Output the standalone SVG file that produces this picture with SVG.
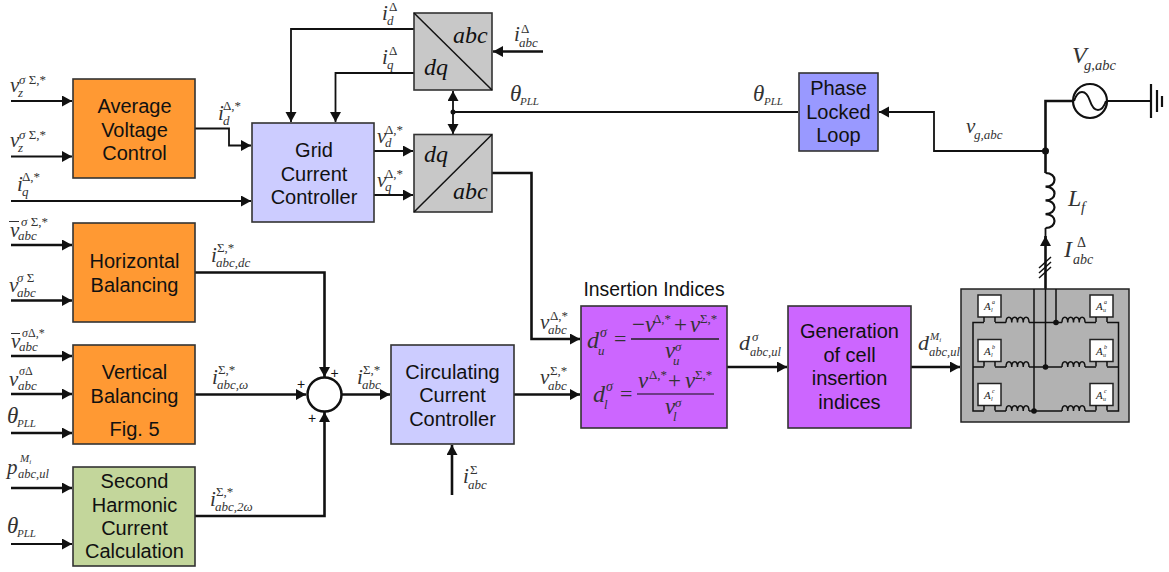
<svg xmlns="http://www.w3.org/2000/svg" width="1169" height="572" viewBox="0 0 1169 572">
<style>
.b{stroke:#333;stroke-width:1.6}
.o{fill:#f93}.p{fill:#ccf}.g{fill:#c3d69b}.v{fill:#c6f}.y{fill:#c8c8c8}
.t{font:20px "Liberation Sans",Arial,sans-serif;fill:#111;text-anchor:middle}
.m{font:italic 21px "Liberation Serif","Times New Roman",serif;fill:#333}
.s{font-size:13px}.u{font-size:13px;font-style:normal}
.n{font-style:normal}
.l{font-size:24px;fill:#111}
.w{fill:none;stroke:#111;stroke-width:1.8}
.h{fill:none;stroke:#111;stroke-width:2.6}
.c{fill:none;stroke:#111;stroke-width:1.5}
.k{fill:#fff;stroke:#222;stroke-width:1.5}
.a{font:italic 11px "Liberation Serif",serif;fill:#222}
</style>
<defs>
<marker id="ar" markerUnits="userSpaceOnUse" markerWidth="12" markerHeight="12" refX="10" refY="5.500" orient="auto"><path d="M0 0L10 5.500L0 11Z" fill="#111"/></marker>
<g id="mod"><rect class="k" x="0" y="0" width="23" height="22"/><path class="c" d="M6 22v5M17 22v5"/></g>
<path id="coil" class="c" d="M0 0c0-7 5.750-7 5.750 0c0-7 5.750-7 5.750 0c0-7 5.750-7 5.750 0c0-7 5.750-7 5.750 0"/>
</defs>

<g id="connectors">
<path class="w" marker-end="url(#ar)" d="M11 101H72"/>
<path class="w" marker-end="url(#ar)" d="M11 156.500H72"/>
<path class="w" marker-end="url(#ar)" d="M11 201H251"/>
<path class="w" marker-end="url(#ar)" d="M195 128.500H229V145.500H251"/>
<path class="h" marker-end="url(#ar)" d="M11 245H72"/>
<path class="h" marker-end="url(#ar)" d="M11 300.500H72"/>
<path class="h" marker-end="url(#ar)" d="M11 356H72"/>
<path class="h" marker-end="url(#ar)" d="M11 394H72"/>
<path class="h" marker-end="url(#ar)" d="M11 433H72"/>
<path class="h" marker-end="url(#ar)" d="M11 488H72"/>
<path class="w" marker-end="url(#ar)" d="M11 544H72"/>
<path class="h" marker-end="url(#ar)" d="M195 272.500H324.500V377"/>
<path class="h" marker-end="url(#ar)" d="M195 394.500H306"/>
<path class="h" marker-end="url(#ar)" d="M195 516H324.500V412"/>
<path class="h" marker-end="url(#ar)" d="M342 394.500H390"/>
<path class="h" marker-end="url(#ar)" d="M514 394.500H580"/>
<path class="h" marker-end="url(#ar)" d="M452 495V445"/>
<path class="w" marker-end="url(#ar)" d="M414 29H291V122"/>
<path class="w" marker-end="url(#ar)" d="M414 73H335.500V122"/>
<path class="w" marker-end="url(#ar)" d="M374 151H413"/>
<path class="w" marker-end="url(#ar)" d="M374 195H413"/>
<path class="h" marker-end="url(#ar)" d="M543 51.500H493"/>
<path class="w" marker-end="url(#ar)" d="M453 112V91"/>
<path class="w" marker-end="url(#ar)" d="M453 112V134"/>
<circle cx="453" cy="112" r="2.500" fill="#111"/>
<path class="w" marker-end="url(#ar)" d="M1045.500 151H934V112H879"/>
<path class="w" d="M798 112H453"/>
<path class="h" marker-end="url(#ar)" d="M492 173H531.500V339H580"/>
<path class="h" marker-end="url(#ar)" d="M727 367H787"/>
<path class="h" marker-end="url(#ar)" d="M911 367H960"/>
<path class="h" d="M1045.500 151V101H1073"/>
<path class="h" d="M1045.500 151V173"/>
<circle cx="1045.500" cy="151" r="3.500" fill="#111"/>
<path class="c" style="stroke-width:2.200" d="M1045.500 173c12 0 12 13.700 0 13.700c12 0 12 13.700 0 13.700c12 0 12 13.700 0 13.700c12 0 12 13.900 0 13.900"/>
<path class="h" marker-end="url(#ar)" d="M1045.500 290V236"/>
<path class="w" d="M1045.500 228V240"/>
<path class="c" d="M1039 278L1051 267M1039 273L1051 262M1039 268L1051 257"/>
<path class="c" d="M1107 101H1151" style="stroke-width:2"/>
<path class="c" style="stroke-width:2.200" d="M1151 84V118M1157 90V112M1162 96V107"/>
</g>

<g id="avg"><rect class="b o" x="73" y="79" width="122" height="99"/><text class="t" x="134.500" y="113">Average</text><text class="t" x="134.500" y="136.500">Voltage</text><text class="t" x="134.500" y="159.500">Control</text></g>
<g id="grid"><rect class="b p" x="252" y="123" width="122" height="99"/><text class="t" x="314" y="156.500">Grid</text><text class="t" x="314" y="180.500">Current</text><text class="t" x="314" y="203.500">Controller</text></g>
<g id="horiz"><rect class="b o" x="73" y="223" width="122" height="99"/><text class="t" x="134.500" y="268">Horizontal</text><text class="t" x="134.500" y="291.500">Balancing</text></g>
<g id="vert"><rect class="b o" x="73" y="345" width="122" height="99"/><text class="t" x="134.500" y="379">Vertical</text><text class="t" x="134.500" y="402.500">Balancing</text><text class="t" x="134.500" y="435.500">Fig. 5</text></g>
<g id="second"><rect class="b g" x="73" y="467" width="122" height="99"/><text class="t" x="134.500" y="488">Second</text><text class="t" x="134.500" y="511.500">Harmonic</text><text class="t" x="134.500" y="535">Current</text><text class="t" x="134.500" y="558">Calculation</text></g>
<g id="circ"><rect class="b p" x="391" y="345" width="123" height="99"/><text class="t" x="452.500" y="378.500">Circulating</text><text class="t" x="452.500" y="402">Current</text><text class="t" x="452.500" y="425.500">Controller</text></g>
<g id="pll"><rect class="b" fill="#99f" x="799" y="73" width="79" height="78"/><text class="t" x="838.500" y="95">Phase</text><text class="t" x="838.500" y="118.500">Locked</text><text class="t" x="838.500" y="142">Loop</text></g>
<g id="gen"><rect class="b v" x="788" y="306" width="123" height="122"/><text class="t" x="849.500" y="338">Generation</text><text class="t" x="849.500" y="361.500">of cell</text><text class="t" x="849.500" y="385">insertion</text><text class="t" x="849.500" y="408.500">indices</text></g>

<g id="park1"><rect class="b y" x="414" y="13" width="78" height="77"/><path class="c" d="M414 13L492 90"/><text class="m l" x="453" y="43">abc</text><text class="m l" x="424" y="75">dq</text></g>
<g id="park2"><rect class="b y" x="414" y="134.500" width="78" height="77.500"/><path class="c" d="M414 212L492 134.500"/><text class="m l" x="424" y="162">dq</text><text class="m l" x="453" y="198.500">abc</text></g>

<g id="sum"><circle cx="324.500" cy="394.500" r="17" fill="#fff" stroke="#111" stroke-width="2.500"/><text class="t" style="font-size:14px" x="334.500" y="378">+</text><text class="t" style="font-size:14px" x="301" y="389">+</text><text class="t" style="font-size:14px" x="312" y="423">+</text></g>

<g id="vsrc"><circle cx="1090" cy="101" r="17" fill="#fff" stroke="#111" stroke-width="2.200"/><path class="c" style="stroke-width:2" d="M1074 101c4-12 12-12 16 0s12 12 16 0"/></g>

<g id="insertion"><rect class="b v" x="581" y="306" width="146" height="122"/>
<text class="t" x="654" y="296" style="font-size:19.400px">Insertion Indices</text>
<text class="m" style="font-size:24px" x="587" y="348">d<tspan class="s" x="598" y="355">u</tspan><tspan class="s" x="600" y="337" style="font-size:14px">σ</tspan></text>
<text class="m n" style="font-size:22px" x="614" y="346">=</text>
<path d="M631 339H719" stroke="#222" stroke-width="1.500"/>
<text class="m" style="font-size:23px" x="632" y="332"><tspan class="n">−</tspan>v<tspan class="u" x="653" y="323">Δ,*</tspan><tspan class="n" style="font-size:23px" x="674" y="332">+</tspan><tspan x="690" y="332">v</tspan><tspan class="u" x="700" y="323">Σ,*</tspan></text>
<text class="m" style="font-size:23px" x="665" y="358">v<tspan class="s" x="673" y="365">u</tspan><tspan class="s" x="675" y="351">σ</tspan></text>
<text class="m" style="font-size:24px" x="593" y="402">d<tspan class="s" x="604" y="409">l</tspan><tspan class="s" x="606" y="391" style="font-size:14px">σ</tspan></text>
<text class="m n" style="font-size:22px" x="620" y="401">=</text>
<path d="M637 394H714" stroke="#111" stroke-width="1.200"/>
<text class="m" style="font-size:23px" x="638" y="388">v<tspan class="u" x="649" y="379">Δ,*</tspan><tspan class="n" style="font-size:23px" x="668" y="388">+</tspan><tspan x="685" y="388">v</tspan><tspan class="u" x="695" y="379">Σ,*</tspan></text>
<text class="m" style="font-size:23px" x="665" y="414">v<tspan class="s" x="673" y="421">l</tspan><tspan class="s" x="675" y="407">σ</tspan></text>
</g>

<g id="converter"><rect x="961" y="289" width="168" height="133" fill="#b2b2b2" stroke="#222" stroke-width="1.500"/>
<path class="c" d="M1034 289V411M1045.500 289V367M1056 289V322.500"/>
<path class="c" d="M984 322.500H973V411H984M1107 322.500H1118.500V411H1107M984 367H973M1107 367H1118.500"/>
<path class="c" d="M995 322.500H1006M1029 322.500H1062M1085 322.500H1096M995 367H1006M1029 367H1062M1085 367H1096M995 411H1006M1029 411H1062M1085 411H1096"/>
<use href="#coil" x="1006" y="322.500"/><use href="#coil" x="1062" y="322.500"/><use href="#coil" x="1006" y="367"/><use href="#coil" x="1062" y="367"/><use href="#coil" x="1006" y="411"/><use href="#coil" x="1062" y="411"/>
<circle cx="1056" cy="322.500" r="2.800" fill="#111"/><circle cx="1045.500" cy="367" r="2.800" fill="#111"/><circle cx="1034" cy="411" r="2.800" fill="#111"/>
<use href="#mod" x="978" y="295"/><use href="#mod" x="1090" y="295"/><use href="#mod" x="978" y="339.500"/><use href="#mod" x="1090" y="339.500"/><use href="#mod" x="978" y="383.500"/><use href="#mod" x="1090" y="383.500"/>
<text class="a" x="984" y="310">A<tspan font-size="6" x="991" y="312">l</tspan><tspan font-size="6" x="992" y="304">a</tspan></text>
<text class="a" x="1096" y="310">A<tspan font-size="6" x="1103" y="312">u</tspan><tspan font-size="6" x="1104" y="304">a</tspan></text>
<text class="a" x="984" y="354.500">A<tspan font-size="6" x="991" y="356.500">l</tspan><tspan font-size="6" x="992" y="348.500">b</tspan></text>
<text class="a" x="1096" y="354.500">A<tspan font-size="6" x="1103" y="356.500">u</tspan><tspan font-size="6" x="1104" y="348.500">b</tspan></text>
<text class="a" x="984" y="398.500">A<tspan font-size="6" x="991" y="400.500">l</tspan><tspan font-size="6" x="992" y="392.500">c</tspan></text>
<text class="a" x="1096" y="398.500">A<tspan font-size="6" x="1103" y="400.500">u</tspan><tspan font-size="6" x="1104" y="392.500">c</tspan></text>
</g>

<g id="labels">
<text class="m" x="10" y="92">v<tspan class="s" x="18" y="97">z</tspan><tspan class="s" x="19" y="84">σ <tspan class="n">Σ,*</tspan></tspan></text>
<text class="m" x="10" y="147">v<tspan class="s" x="18" y="152">z</tspan><tspan class="s" x="19" y="139">σ <tspan class="n">Σ,*</tspan></tspan></text>
<text class="m" x="17" y="191">i<tspan class="s" x="22" y="196">q</tspan><tspan class="u" x="22" y="181">Δ,*</tspan></text>
<text class="m" x="218" y="120">i<tspan class="s" x="223" y="125">d</tspan><tspan class="u" x="223" y="110">Δ,*</tspan></text>
<text class="m" x="382" y="20">i<tspan class="s" x="387" y="25">d</tspan><tspan class="u" x="389" y="11">Δ</tspan></text>
<text class="m" x="382" y="64">i<tspan class="s" x="387" y="69">q</tspan><tspan class="u" x="389" y="55">Δ</tspan></text>
<text class="m" x="377" y="143">v<tspan class="s" x="385" y="147">d</tspan><tspan class="u" x="385" y="134">Δ,*</tspan></text>
<text class="m" x="377" y="187">v<tspan class="s" x="385" y="191">q</tspan><tspan class="u" x="385" y="178">Δ,*</tspan></text>
<text class="m" x="514" y="41">i<tspan class="s" x="519" y="47">abc</tspan><tspan class="u" x="521" y="33">Δ</tspan></text>
<text class="m" style="font-size:23px" x="510" y="101">θ<tspan class="s" style="font-size:11px" x="520" y="105">PLL</tspan></text>
<text class="m" style="font-size:23px" x="753" y="101">θ<tspan class="s" style="font-size:11px" x="764" y="105">PLL</tspan></text>
<text class="m" x="10" y="237">v<tspan class="s" x="18" y="240">abc</tspan><tspan class="s" x="21" y="226">σ <tspan class="n">Σ,*</tspan></tspan></text>
<path d="M9 221.500H19" stroke="#333" stroke-width="1"/>
<text class="m" x="9" y="292">v<tspan class="s" x="17" y="297">abc</tspan><tspan class="s" x="17" y="282">σ <tspan class="n">Σ</tspan></tspan></text>
<text class="m" x="11" y="348">v<tspan class="s" x="19" y="351">abc</tspan><tspan class="s" x="22" y="337" style="font-size:12px">σ<tspan class="n">Δ,*</tspan></tspan></text>
<path d="M11 333.500H20" stroke="#333" stroke-width="1"/>
<text class="m" x="9" y="386">v<tspan class="s" x="18" y="390">abc</tspan><tspan class="s" x="19" y="375" style="font-size:12px">σ<tspan class="n">Δ</tspan></tspan></text>
<text class="m" style="font-size:23px" x="7" y="423">θ<tspan class="s" style="font-size:11px" x="17" y="427">PLL</tspan></text>
<text class="m" x="7" y="474">p<tspan class="s" style="font-size:12.500px" x="18" y="478">abc,ul</tspan><tspan class="s" style="font-size:11px" x="20" y="462">M<tspan style="font-size:7px" dy="2">i</tspan></tspan></text>
<text class="m" style="font-size:23px" x="7" y="533">θ<tspan class="s" style="font-size:11px" x="17" y="537">PLL</tspan></text>
<text class="m" x="211" y="262">i<tspan class="s" x="216" y="267">abc,dc</tspan><tspan class="u" x="217" y="252">Σ,*</tspan></text>
<text class="m" x="212" y="384">i<tspan class="s" x="217" y="389">abc,ω</tspan><tspan class="u" x="218" y="374">Σ,*</tspan></text>
<text class="m" x="210" y="506">i<tspan class="s" x="215" y="511">abc,2ω</tspan><tspan class="u" x="216" y="496">Σ,*</tspan></text>
<text class="m" x="357" y="384">i<tspan class="s" x="362" y="389">abc</tspan><tspan class="u" x="363" y="374">Σ,*</tspan></text>
<text class="m" x="540" y="329">v<tspan class="s" x="548" y="334">abc</tspan><tspan class="u" x="550" y="320">Δ,*</tspan></text>
<text class="m" x="540" y="384">v<tspan class="s" x="548" y="390">abc</tspan><tspan class="u" x="550" y="375">Σ,*</tspan></text>
<text class="m" x="463" y="483">i<tspan class="s" x="468" y="489">abc</tspan><tspan class="u" x="470" y="474">Σ</tspan></text>
<text class="m" style="font-size:22px" x="739" y="350">d<tspan class="s" style="font-size:12.500px" x="750" y="356">abc,ul</tspan><tspan class="s" x="752" y="341">σ</tspan></text>
<text class="m" style="font-size:22px" x="918" y="350">d<tspan class="s" style="font-size:12.500px" x="929" y="356">abc,ul</tspan><tspan class="s" style="font-size:11px" x="930" y="340">M<tspan style="font-size:7px" dy="2">i</tspan></tspan></text>
<text class="m" x="966" y="133">v<tspan class="s" x="974" y="139">g,abc</tspan></text>
<text class="m" style="font-size:24px" x="1072" y="63">V<tspan style="font-size:14.500px" x="1084" y="70">g,abc</tspan></text>
<text class="m" style="font-size:24px" x="1068" y="206">L<tspan style="font-size:15px" x="1081" y="212">f</tspan></text>
<text class="m" style="font-size:24px" x="1064" y="257">I<tspan style="font-size:14px" x="1073" y="264">abc</tspan><tspan class="u" style="font-size:14px" x="1077" y="247">Δ</tspan></text>
</g>
</svg>
